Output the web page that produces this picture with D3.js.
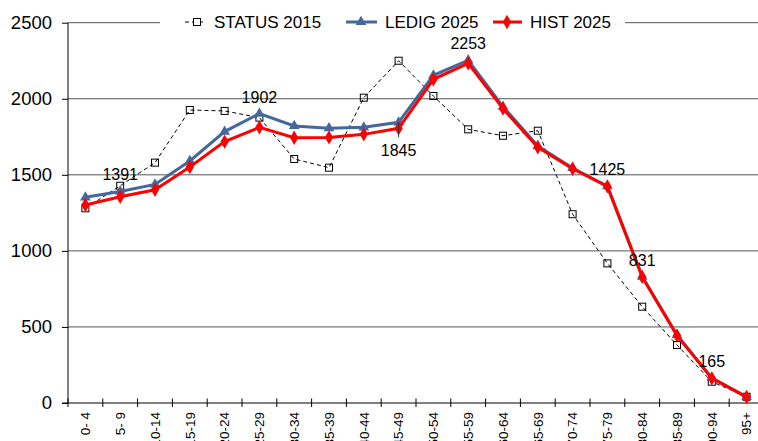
<!DOCTYPE html>
<html>
<head>
<meta charset="utf-8">
<script src="https://cdn.jsdelivr.net/npm/d3@7"></script>
<style>
  body { margin: 0; background: #fff; }
  text { font-family: Arial, "Liberation Sans", sans-serif; fill: #000; }
</style>
</head>
<body>
<div id="chart"></div>
<script>
// age groups along the x axis
var ages = ["0- 4", "5- 9", "10-14", "15-19", "20-24", "25-29", "30-34", "35-39", "40-44", "45-49",
            "50-54", "55-59", "60-64", "65-69", "70-74", "75-79", "80-84", "85-89", "90-94", "95+"];

// series values
var status2015 = [1280, 1428, 1580, 1926, 1920, 1876, 1604, 1547, 2007, 2250,
                  2018, 1799, 1757, 1790, 1241, 918, 633, 381, 140, 41];
var ledig2025  = [1352, 1391, 1437, 1591, 1784, 1902, 1821, 1806, 1812, 1845,
                  2154, 2253, 1948, 1689, 1545, 1425, 831, 447, 165, 40];
var hist2025   = [1302, 1356, 1402, 1551, 1718, 1812, 1744, 1746, 1766, 1806,
                  2128, 2233, 1935, 1681, 1540, 1424, 829, 443, 162, 39];

var yTicks = [0, 500, 1000, 1500, 2000, 2500];

// which LEDIG points carry a value label (and which one sits below its point)
var labelled = [1, 5, 9, 11, 15, 16, 18];
var labelBelow = [9];

var width = 758, height = 441;
var left = 68, yZero = 403, yTop = 22.7;

var svg = d3.select("#chart").append("svg")
    .attr("width", width)
    .attr("height", height);

var x = d3.scaleBand()
    .domain(ages)
    .range([left, 764]);

var y = d3.scaleLinear()
    .domain([0, 2500])
    .range([yZero, yTop]);

var cx = function(i) { return x(ages[i]) + x.bandwidth() / 2; };

// horizontal gridlines
svg.append("g")
  .selectAll("line")
  .data(yTicks.slice(1))
  .enter().append("line")
    .attr("x1", left)
    .attr("x2", width)
    .attr("y1", function(d) { return y(d); })
    .attr("y2", function(d) { return y(d); })
    .attr("stroke", "#555")
    .attr("stroke-width", 1);

// y axis
var yAxis = svg.append("g")
    .attr("transform", "translate(" + left + ",0)")
    .call(d3.axisLeft(y).tickValues(yTicks).tickFormat(d3.format("d")).tickSize(6).tickPadding(10));
yAxis.select(".domain").attr("stroke", "#000").attr("d", "M0," + yZero + "V" + yTop);
yAxis.selectAll(".tick line").attr("stroke", "#000");
yAxis.selectAll("text").style("font-size", "18.5px").style("font-family", "Arial, 'Liberation Sans', sans-serif");

// x axis: labels from the band scale, ticks on the band edges
var xAxis = svg.append("g")
    .attr("transform", "translate(0," + yZero + ")")
    .call(d3.axisBottom(x).tickSize(0));
xAxis.select(".domain").attr("stroke", "#000").attr("d", "M" + (left - 6) + ",0H" + width);
xAxis.selectAll("text")
    .attr("transform", "rotate(-90)")
    .attr("x", -9)
    .attr("y", 0)
    .attr("dy", "0.35em")
    .style("text-anchor", "end")
    .style("font-size", "13.5px")
    .style("font-family", "Arial, 'Liberation Sans', sans-serif");
xAxis.selectAll(".edge")
    .data(ages)
    .enter().append("line")
    .attr("class", "edge")
    .attr("x1", function(d) { return x(d); })
    .attr("x2", function(d) { return x(d); })
    .attr("y1", -4.5)
    .attr("y2", 4)
    .attr("stroke", "#000");

var line = d3.line()
    .x(function(d, i) { return cx(i); })
    .y(function(d) { return y(d); });

// STATUS 2015: dashed black with hollow squares
svg.append("path")
    .datum(status2015)
    .attr("d", line)
    .attr("fill", "none")
    .attr("stroke", "#000")
    .attr("stroke-width", 1)
    .attr("stroke-dasharray", "4,3");
svg.append("g").selectAll("rect")
    .data(status2015)
    .enter().append("rect")
    .attr("x", function(d, i) { return cx(i) - 3.5; })
    .attr("y", function(d) { return y(d) - 3.5; })
    .attr("width", 7)
    .attr("height", 7)
    .attr("fill", "none")
    .attr("stroke", "#000")
    .attr("stroke-width", 1);

// LEDIG 2025: blue with triangles
var blue = "#44689c";
svg.append("path")
    .datum(ledig2025)
    .attr("d", line)
    .attr("fill", "none")
    .attr("stroke", blue)
    .attr("stroke-width", 3);
svg.append("g").selectAll("path")
    .data(ledig2025)
    .enter().append("path")
    .attr("d", d3.symbol().type(d3.symbolTriangle).size(50))
    .attr("transform", function(d, i) { return "translate(" + cx(i) + "," + y(d) + ")"; })
    .attr("fill", blue);

// HIST 2025: red with diamonds
var red = "#ff0000";
svg.append("path")
    .datum(hist2025)
    .attr("d", line)
    .attr("fill", "none")
    .attr("stroke", red)
    .attr("stroke-width", 3);
svg.append("g").selectAll("path")
    .data(hist2025)
    .enter().append("path")
    .attr("d", d3.symbol().type(d3.symbolDiamond).size(60))
    .attr("transform", function(d, i) { return "translate(" + cx(i) + "," + y(d) + ")"; })
    .attr("fill", red);

// value labels on the LEDIG series
labelled.forEach(function(i) {
  var below = labelBelow.indexOf(i) >= 0;
  if (below) {
    svg.append("line")
      .attr("x1", cx(i)).attr("x2", cx(i))
      .attr("y1", y(ledig2025[i])).attr("y2", y(ledig2025[i]) + 15)
      .attr("stroke", "#333");
  }
  svg.append("text")
    .attr("x", cx(i))
    .attr("y", below ? y(ledig2025[i]) + 34 : y(ledig2025[i]) - 11)
    .attr("text-anchor", "middle")
    .style("font-size", "16px")
    .text(ledig2025[i]);
});

// legend on a white box over the top gridline
var legend = svg.append("g");
legend.append("rect")
    .attr("x", 160).attr("y", 8)
    .attr("width", 465).attr("height", 28)
    .attr("fill", "#fff");

var ly = 22;
var items = [
  {name: "STATUS 2015", x1: 185, x2: 206, m: 197},
  {name: "LEDIG 2025", x1: 346, x2: 377, m: 361},
  {name: "HIST 2025", x1: 493, x2: 522, m: 507}
];

legend.append("line")
    .attr("x1", items[0].x1).attr("x2", items[0].x2)
    .attr("y1", ly).attr("y2", ly)
    .attr("stroke", "#000").attr("stroke-dasharray", "4,3");
legend.append("rect")
    .attr("x", items[0].m - 3.5).attr("y", ly - 3.5)
    .attr("width", 7).attr("height", 7)
    .attr("fill", "#fff").attr("stroke", "#000");

legend.append("line")
    .attr("x1", items[1].x1).attr("x2", items[1].x2)
    .attr("y1", ly).attr("y2", ly)
    .attr("stroke", blue).attr("stroke-width", 3);
legend.append("path")
    .attr("d", d3.symbol().type(d3.symbolTriangle).size(50))
    .attr("transform", "translate(" + items[1].m + "," + ly + ")")
    .attr("fill", blue);

legend.append("line")
    .attr("x1", items[2].x1).attr("x2", items[2].x2)
    .attr("y1", ly).attr("y2", ly)
    .attr("stroke", red).attr("stroke-width", 3);
legend.append("path")
    .attr("d", d3.symbol().type(d3.symbolDiamond).size(60))
    .attr("transform", "translate(" + items[2].m + "," + ly + ")")
    .attr("fill", red);

legend.selectAll(".ltext")
    .data(items)
    .enter().append("text")
    .attr("class", "ltext")
    .attr("x", function(d) { return d.x2 + 8; })
    .attr("y", ly + 6)
    .style("font-size", "17px")
    .text(function(d) { return d.name; });
</script>
</body>
</html>
